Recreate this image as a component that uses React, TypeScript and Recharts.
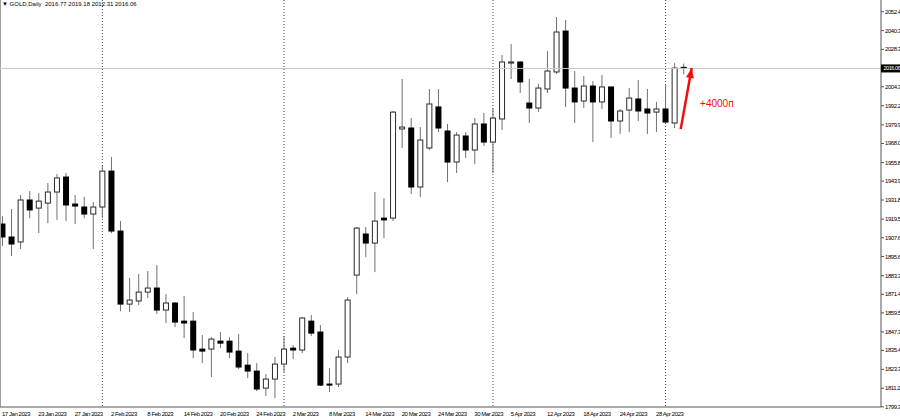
import React from "react";
import { ComposedChart, Bar, XAxis, YAxis, ReferenceLine, ReferenceDot } from "recharts";

// daily bars, index 0 = 17 Jan 2023, last = 3 May 2023
const opens = [
  1916.4, 1908.1, 1904.9, 1931.8, 1926.6, 1929.8, 1936.9, 1946.5, 1929.2, 1927.3,
  1922.8, 1927.3, 1950.3, 1911.9, 1865.1, 1867.1, 1872.8, 1875.4, 1861.3, 1865.8,
  1854.2, 1854.2, 1836.3, 1836.3, 1841.4, 1841.4, 1835.0, 1826.0, 1822.2, 1811.3,
  1817.1, 1826.7, 1836.9, 1835.7, 1854.2, 1847.2, 1813.9, 1813.9, 1831.2, 1883.7,
  1910.0, 1904.2, 1920.2, 1920.2, 1977.3, 1977.9, 1940.1, 1965.1, 1991.4, 1976.0,
  1956.1, 1972.8, 1963.8, 1980.5, 1968.9, 1983.7, 2019.5, 2020.2, 1993.9, 1990.7,
  2002.9, 2013.8, 2040.0, 2003.5, 1995.2, 2004.8, 1994.6, 2004.2, 1982.4, 1989.4,
  1996.5, 1990.1, 1988.1, 1990.1, 1981.1, 2016.77,
];
const highs = [
  1921.5, 1926.0, 1935.0, 1937.5, 1936.2, 1942.7, 1948.4, 1949.1, 1935.0, 1933.7,
  1930.5, 1954.2, 1959.3, 1918.3, 1881.8, 1884.4, 1886.3, 1890.1, 1871.5, 1866.4,
  1870.3, 1860.0, 1845.3, 1844.0, 1847.2, 1844.0, 1845.9, 1833.7, 1827.3, 1820.3,
  1831.2, 1844.6, 1838.9, 1856.8, 1858.1, 1851.7, 1824.1, 1835.7, 1869.6, 1914.5,
  1914.5, 1936.9, 1933.0, 1988.8, 2009.3, 1984.3, 1978.5, 2002.9, 2002.9, 1980.5,
  1975.3, 1975.3, 1984.3, 1987.5, 1990.7, 2024.7, 2031.7, 2020.5, 2009.3, 2006.1,
  2027.2, 2049.0, 2047.1, 2014.4, 2011.2, 2008.0, 2011.9, 2004.5, 1990.1, 2003.5,
  2008.6, 2002.9, 1994.6, 2006.1, 2019.5, 2019.18,
];
const lows = [
  1902.3, 1895.9, 1900.4, 1920.2, 1910.6, 1917.0, 1919.0, 1918.3, 1916.4, 1920.2,
  1900.4, 1920.2, 1910.6, 1860.6, 1860.0, 1864.5, 1869.0, 1858.7, 1853.0, 1850.4,
  1843.3, 1830.5, 1827.3, 1818.4, 1836.9, 1830.5, 1823.5, 1817.7, 1809.4, 1806.2,
  1804.9, 1821.6, 1829.9, 1833.7, 1844.6, 1812.6, 1808.8, 1812.0, 1827.3, 1871.5,
  1895.2, 1885.6, 1907.4, 1918.3, 1965.1, 1935.6, 1933.7, 1963.8, 1975.3, 1943.3,
  1949.1, 1958.7, 1954.8, 1966.4, 1949.1, 1976.6, 2009.3, 2000.3, 1981.1, 1988.1,
  2000.3, 2012.5, 1991.4, 1981.1, 1990.7, 1968.9, 1990.1, 1971.5, 1974.1, 1975.3,
  1982.4, 1974.1, 1975.3, 1981.1, 1977.9, 2012.31,
];
const closes = [
  1908.1, 1903.6, 1931.8, 1925.4, 1931.1, 1936.9, 1945.9, 1928.6, 1927.9, 1922.8,
  1927.3, 1950.3, 1911.9, 1865.1, 1867.7, 1872.8, 1875.4, 1861.3, 1865.8, 1853.6,
  1853.0, 1835.7, 1835.0, 1842.7, 1840.1, 1834.4, 1824.8, 1822.2, 1810.7, 1817.1,
  1826.7, 1836.3, 1835.7, 1856.2, 1846.5, 1813.2, 1813.2, 1831.2, 1867.7, 1913.8,
  1904.2, 1918.3, 1919.0, 1988.1, 1978.5, 1940.1, 1970.2, 1993.3, 1977.9, 1956.1,
  1973.4, 1963.8, 1980.5, 1968.9, 1984.3, 2020.2, 2020.2, 2007.4, 1990.7, 2003.5,
  2014.4, 2039.4, 2003.5, 1994.6, 2004.8, 1994.6, 2004.2, 1982.4, 1988.8, 1997.1,
  1988.8, 1987.5, 1990.1, 1981.7, 2016.3, 2016.06,
];

const dateTicks = [0, 4, 8, 12, 16, 20, 24, 28, 32, 36, 40, 44, 48, 52, 56, 60, 64, 68, 72];
const dateLabels = [
  "17 Jan 2023", "23 Jan 2023", "27 Jan 2023", "2 Feb 2023", "8 Feb 2023", "14 Feb 2023",
  "20 Feb 2023", "24 Feb 2023", "2 Mar 2023", "8 Mar 2023", "14 Mar 2023", "20 Mar 2023",
  "24 Mar 2023", "30 Mar 2023", "5 Apr 2023", "12 Apr 2023", "18 Apr 2023", "24 Apr 2023",
  "28 Apr 2023",
];
const priceTicks = [
  2052.4, 2040.3, 2028.3, 2004.3, 1992.2, 1979.9, 1968.0, 1955.8, 1943.9, 1931.8,
  1919.5, 1907.6, 1895.6, 1883.3, 1871.4, 1859.5, 1847.3, 1835.4, 1823.3, 1811.2,
  1799.3,
];
const bid = 2016.06;
const monthStarts = [11, 31, 54, 73];
const arrowFrom = { x: 74.72, y: 1977.2 };
const arrowTo = { x: 75.93, y: 2016.3 };
const note = { x: 76.85, y: 1993.6, text: "+4000п" };

const data = opens.map((o, i) => ({
  i,
  open: o,
  high: highs[i],
  low: lows[i],
  close: closes[i],
}));

const FONT = "'Liberation Sans', Arial, sans-serif";
const RED = "#f20d0d";

function Candle(props: any) {
  const { x, y, width, height, payload } = props;
  if (x == null || !payload) return null;
  const top = Math.min(y, y + height);
  const bottom = Math.max(y, y + height);
  const { open, close, high, low } = payload;
  const span = high - low || 1;
  const py = (v: number) => top + ((high - v) / span) * (bottom - top);
  const cx = x + width / 2;
  const bTop = py(Math.max(open, close));
  const bBot = py(Math.min(open, close));
  const h = Math.max(bBot - bTop, 1);
  const up = close > open;
  return (
    <g>
      <line x1={cx} x2={cx} y1={top} y2={bottom} stroke="#707070" strokeWidth={1} />
      {up ? (
        <rect x={cx - 2.5} y={bTop} width={5} height={h} fill="#fff" stroke="#2a2a2a" strokeWidth={1} />
      ) : (
        <rect x={cx - 3} y={bTop - 0.5} width={6} height={h + 1} fill="#000" />
      )}
    </g>
  );
}

// period separators, drawn in the bar background so candles sit on top
function Separator(props: any) {
  const { x, y, width, height, index, payload } = props;
  const idx = index ?? payload?.i;
  if (!monthStarts.includes(idx)) return null;
  const cx = x + width / 2;
  return <line x1={cx} x2={cx} y1={y} y2={y + height} stroke="#444" strokeDasharray="1 2" />;
}

function DateTick(props: any) {
  const { x, y, payload } = props;
  const k = dateTicks.indexOf(payload.value);
  return (
    <text x={x} y={y + 1} fontSize={6} letterSpacing={-0.45} fill="#000" fontFamily={FONT} textAnchor="start">
      {dateLabels[k]}
    </text>
  );
}

function PriceTick(props: any) {
  const { x, y, payload } = props;
  if (payload.value === bid) {
    return (
      <g>
        <rect x={x - 4} y={y - 4} width={24} height={8} fill="#000" />
        <text x={x - 1.5} y={y + 2} fontSize={5.6} letterSpacing={-0.5} fill="#fff" fontFamily={FONT}>
          {bid.toFixed(2)}
        </text>
      </g>
    );
  }
  return (
    <text x={x} y={y + 2} fontSize={6} letterSpacing={-0.45} fill="#000" fontFamily={FONT} textAnchor="start">
      {payload.value.toFixed(1)}
    </text>
  );
}

function ArrowHead(props: any) {
  const { cx, cy } = props;
  // direction of the arrow on screen (up and slightly right)
  const ang = Math.atan2(-61, 11);
  const len = 10;
  const half = 4;
  const bx = cx - Math.cos(ang) * len;
  const by = cy - Math.sin(ang) * len;
  const px = -Math.sin(ang) * half;
  const py = Math.cos(ang) * half;
  return <polygon points={`${cx},${cy} ${bx + px},${by + py} ${bx - px},${by - py}`} fill={RED} />;
}

function NoteText(props: any) {
  const { cx, cy } = props;
  return (
    <text x={cx} y={cy + 3.5} fontSize={10} fill={RED} fontFamily={FONT}>
      {note.text}
    </text>
  );
}

export default function App() {
  return (
    <div style={{ position: "relative", width: 900, height: 420, overflow: "hidden", background: "#fff" }}>
      <style>{"body{margin:0}"}</style>
      <ComposedChart width={900} height={420} data={data} margin={{ top: 0, right: 0, bottom: 0, left: 0 }}>
        <XAxis
          dataKey="i"
          type="number"
          domain={[-0.22, 96.77]}
          allowDataOverflow
          ticks={dateTicks}
          interval={0}
          tick={<DateTick />}
          tickLine={false}
          axisLine={{ stroke: "#555" }}
          height={13}
        />
        <YAxis
          orientation="right"
          type="number"
          domain={[1799.2, 2059.9]}
          allowDataOverflow
          ticks={[...priceTicks, bid]}
          interval={0}
          tick={<PriceTick />}
          tickSize={3}
          tickMargin={1}
          tickLine={{ stroke: "#555" }}
          axisLine={{ stroke: "#555" }}
          width={19}
        />
        <ReferenceLine x={-0.22} stroke="#a0a0a0" strokeWidth={2} />
        <ReferenceLine y={bid} stroke="#c8c8c8" />
        <Bar
          dataKey={(d: any) => [d.low, d.high]}
          barSize={6}
          background={<Separator />}
          shape={<Candle />}
          isAnimationActive={false}
        />
        <ReferenceLine
          segment={[arrowFrom, arrowTo]}
          stroke={RED}
          strokeWidth={2.5}
        />
        <ReferenceDot x={arrowTo.x} y={arrowTo.y} r={0} shape={<ArrowHead />} />
        <ReferenceDot x={note.x} y={note.y} r={0} shape={<NoteText />} />
      </ComposedChart>
      <div
        style={{
          position: "absolute",
          left: 2,
          top: 0,
          fontFamily: FONT,
          fontSize: 6,
          lineHeight: "8px",
          color: "#000",
          whiteSpace: "pre",
        }}
      >
        {"▼ GOLD,Daily  2016.77 2019.18 2012.31 2016.06"}
      </div>
    </div>
  );
}
